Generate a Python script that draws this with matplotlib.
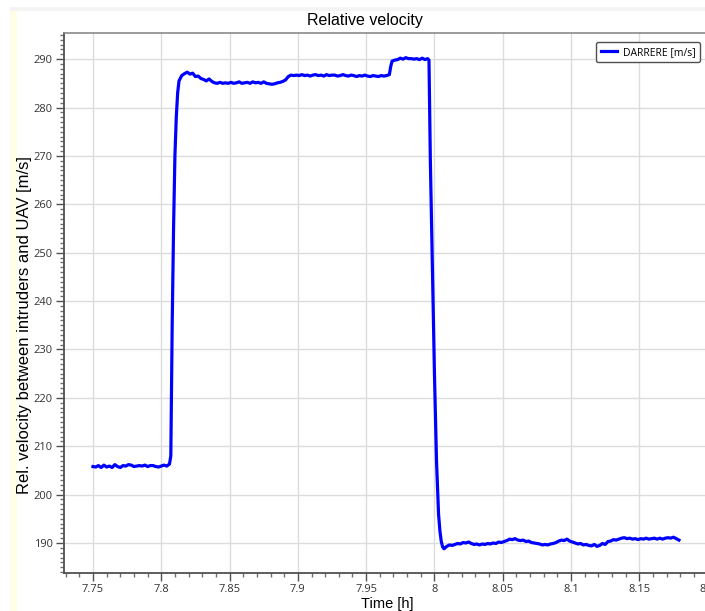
import matplotlib.pyplot as plt
from matplotlib.patches import Rectangle
from matplotlib.ticker import MultipleLocator

# tiempo [h] y velocidad relativa [m/s]
tiempo = [
    7.750, 7.752, 7.754, 7.756, 7.758, 7.760, 7.762, 7.764, 7.766, 7.768,
    7.770, 7.772, 7.774, 7.776, 7.778, 7.780, 7.782, 7.784, 7.786, 7.788,
    7.790, 7.792, 7.794, 7.796, 7.798, 7.800, 7.802, 7.804, 7.806,
    7.807, 7.808, 7.809, 7.810, 7.811, 7.812, 7.813, 7.815, 7.817, 7.819,
    7.821, 7.823, 7.825, 7.827, 7.829, 7.831, 7.833, 7.835, 7.837, 7.839,
    7.841, 7.843, 7.845, 7.847, 7.849, 7.851, 7.853, 7.855, 7.857, 7.859,
    7.861, 7.863, 7.865, 7.867, 7.869, 7.871, 7.873, 7.875, 7.877, 7.879,
    7.881, 7.883, 7.885, 7.887, 7.889, 7.891, 7.893, 7.895, 7.897, 7.899,
    7.901, 7.903, 7.905, 7.907, 7.909, 7.911, 7.913, 7.915, 7.917, 7.919,
    7.921, 7.923, 7.925, 7.927, 7.929, 7.931, 7.933, 7.935, 7.937, 7.939,
    7.941, 7.943, 7.945, 7.947, 7.949, 7.951, 7.953, 7.955, 7.957, 7.959,
    7.961, 7.963, 7.965, 7.967, 7.968, 7.969, 7.971, 7.973, 7.975, 7.977,
    7.979, 7.981, 7.983, 7.985, 7.987, 7.989, 7.991, 7.993, 7.995, 7.996,
    7.997, 7.9985, 8.000, 8.0015, 8.003, 8.004, 8.005, 8.006, 8.007, 8.009,
    8.011, 8.013, 8.015, 8.017, 8.019, 8.021, 8.023, 8.025, 8.027, 8.029,
    8.031, 8.033, 8.035, 8.037, 8.039, 8.041, 8.043, 8.045, 8.047, 8.049,
    8.051, 8.053, 8.055, 8.057, 8.059, 8.061, 8.063, 8.065, 8.067, 8.069,
    8.071, 8.073, 8.075, 8.077, 8.079, 8.081, 8.083, 8.085, 8.087, 8.089,
    8.091, 8.093, 8.095, 8.097, 8.099, 8.101, 8.103, 8.105, 8.107, 8.109,
    8.111, 8.113, 8.115, 8.117, 8.119, 8.121, 8.123, 8.125, 8.127, 8.129,
    8.131, 8.133, 8.135, 8.137, 8.139, 8.141, 8.143, 8.145, 8.147, 8.149,
    8.151, 8.153, 8.155, 8.157, 8.159, 8.161, 8.163, 8.165, 8.167, 8.169,
    8.171, 8.173, 8.175, 8.177, 8.179,
]
velocidad = [
    205.8, 205.7, 206.0, 205.6, 206.1, 205.7, 205.9, 205.6, 206.2, 205.8,
    205.6, 206.0, 205.9, 206.2, 206.1, 205.8, 205.9, 206.0, 205.9, 206.1,
    205.8, 206.0, 206.0, 205.8, 205.7, 205.9, 206.1, 205.9, 206.3,
    208.0, 235.0, 255.0, 270.0, 278.0, 283.0, 285.5, 286.6, 287.0, 287.3,
    286.9, 287.1, 286.4, 286.5, 286.0, 285.8, 285.5, 285.9, 285.4, 285.1,
    285.0, 285.2, 285.0, 285.1, 285.0, 285.2, 285.0, 285.1, 285.3, 285.0,
    285.1, 285.2, 285.0, 285.3, 285.1, 285.2, 285.0, 285.3, 285.0, 284.9,
    284.8, 284.9, 285.1, 285.2, 285.4, 285.7, 286.4, 286.7, 286.6, 286.7,
    286.6, 286.8, 286.6, 286.7, 286.5, 286.7, 286.8, 286.6, 286.7, 286.5,
    286.8, 286.6, 286.7, 286.7, 286.5, 286.6, 286.8, 286.6, 286.5, 286.7,
    286.6, 286.4, 286.6, 286.5, 286.7, 286.5, 286.4, 286.6, 286.5, 286.4,
    286.6, 286.5, 286.6, 286.8, 288.5, 289.6, 289.8, 289.9, 290.2, 290.0,
    290.3, 290.1, 290.1, 290.0, 290.1, 289.9, 290.2, 289.9, 290.1, 289.8,
    269.0, 247.0, 225.0, 207.0, 196.0, 192.5, 190.3, 189.2, 188.8, 189.3,
    189.6, 189.5, 189.7, 189.9, 189.8, 190.1, 190.0, 190.2, 189.9, 189.7,
    189.8, 189.6, 189.8, 189.7, 189.9, 189.8, 190.0, 189.9, 190.2, 190.1,
    190.3, 190.5, 190.8, 190.7, 190.9, 190.6, 190.5, 190.6, 190.3, 190.4,
    190.1, 190.0, 189.9, 189.8, 189.6, 189.7, 189.6, 189.8, 189.9, 190.1,
    190.4, 190.6, 190.5, 190.8, 190.4, 190.2, 190.0, 189.8, 189.9, 189.6,
    189.7, 189.5, 189.4, 189.7, 189.3, 189.5, 189.9, 189.7, 190.3, 190.4,
    190.7, 190.6, 190.8, 191.0, 191.1, 190.9, 191.0, 190.8, 190.9, 190.7,
    190.9, 190.8, 191.0, 190.8, 190.9, 191.0, 190.8, 191.0, 190.8, 191.0,
    191.1, 191.0, 191.2, 190.9, 190.6,
]

fig = plt.figure(figsize=(7.05, 6.11), dpi=100)
W, H = 705.0, 611.0

# franja gris arriba y franja amarilla a la izquierda
fig.patches.append(Rectangle((10 / W, 1 - 11 / H), 1, 4 / H, transform=fig.transFigure,
                             facecolor='#f4f4f4', edgecolor='none', zorder=0))
fig.patches.append(Rectangle((10 / W, 0), 7 / W, 1 - 11 / H, transform=fig.transFigure,
                             facecolor='#fefde6', edgecolor='none', zorder=0))

# ejes: pueden salirse por la derecha como en la captura
x0, x1 = 7.7288, 8.21
y0, y1 = 183.8, 295.4
izq, der = 64, 721.3
arriba, abajo = 33, 573
ax = fig.add_axes([izq / W, 1 - abajo / H, (der - izq) / W, (abajo - arriba) / H])

ax.plot(tiempo, velocidad, color='#0000ff', lw=2.3, label='DARRERE [m/s]',
        solid_joinstyle='round')

ax.set_xlim(x0, x1)
ax.set_ylim(y0, y1)
ax.xaxis.set_minor_locator(MultipleLocator(0.01))
ax.yaxis.set_major_locator(MultipleLocator(10))
ax.yaxis.set_minor_locator(MultipleLocator(1))
ax.set_xticks([7.75, 7.8, 7.85, 7.9, 7.95, 8.0, 8.05, 8.1, 8.15, 8.2])
ax.set_xticklabels(['7.75', '7.8', '7.85', '7.9', '7.95', '8', '8.05', '8.1', '8.15', '8.2'])

ax.grid(True, which='major', color='#dcdcdc', lw=1.0)
ax.set_axisbelow(True)

for s in ['left', 'bottom']:
    ax.spines[s].set_color('#505050')
    ax.spines[s].set_linewidth(1.3)
ax.spines['top'].set_color('#8a8a8a')
ax.spines['top'].set_linewidth(1.2)
ax.spines['right'].set_visible(False)

ax.tick_params(which='major', length=6, width=1.0, color='#505050',
               labelsize=8, labelcolor='#333333', pad=2)
ax.tick_params(which='minor', length=3, width=1.0, color='#707070')
for lab in ax.get_xticklabels() + ax.get_yticklabels():
    lab.set_fontfamily('Open Sans')

fig.text(365 / W, 1 - 20 / H, 'Relative velocity', ha='center', va='center',
         fontsize=11.5, family='Liberation Sans')
fig.text(387 / W, 1 - 604 / H, 'Time [h]', ha='center', va='center',
         fontsize=10.5, family='Liberation Sans')
fig.text(25 / W, 1 - 325 / H, 'Rel. velocity between intruders and UAV [m/s]',
         ha='center', va='center', rotation=90, fontsize=12, family='Liberation Sans')

leg = ax.legend(loc='upper right', bbox_to_anchor=(700 / W, 1 - 42 / H),
                bbox_transform=fig.transFigure, borderaxespad=0, fancybox=True,
                framealpha=1, edgecolor='#505050', handlelength=1.6,
                handletextpad=0.5, borderpad=0.45,
                prop={'family': 'Open Sans', 'size': 7.5})
leg.get_frame().set_linewidth(1.0)

fig.savefig('out.png', dpi=100)
